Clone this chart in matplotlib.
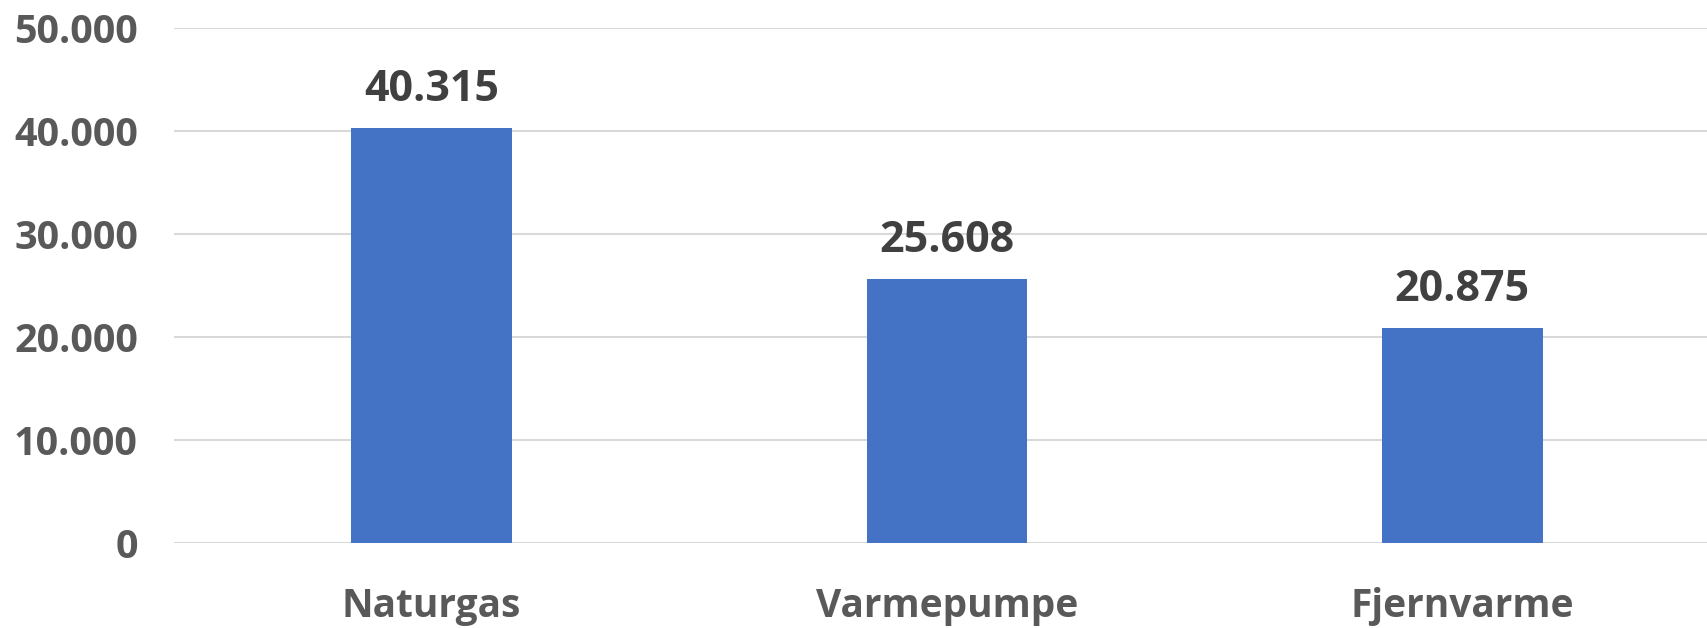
import numpy as np
import matplotlib.pyplot as plt

# Data
kategorier = ["Naturgas", "Varmepumpe", "Fjernvarme"]
vaerdier = [40315, 25608, 20875]
y_ticks = [0, 10000, 20000, 30000, 40000, 50000]

plt.rcParams['font.family'] = ['Open Sans', 'DejaVu Sans']
plt.rcParams['font.weight'] = 'bold'

W, H = 1708, 628
fig = plt.figure(figsize=(W / 100, H / 100), dpi=100)

# Axes in pixel coords: left 174, bottom 542.5, top 28, right edge of figure
left, right, top, bottom = 174, 1708, 28, 542.5
ax = fig.add_axes([left / W, 1 - bottom / H, (right - left) / W, (bottom - top) / H])

x = np.arange(len(kategorier))
ax.bar(x, vaerdier, width=0.312, color="#4472c4", zorder=3)

ax.set_ylim(0, 50000)
ax.set_xlim(-0.5, 2.5 - 12 / 515.5)

ax.set_yticks(y_ticks)
ax.set_yticklabels([f"{v:,}".replace(",", ".") for v in y_ticks])
ax.set_xticks(x)
ax.set_xticklabels(kategorier)

ax.grid(axis="y", color="#d9d9d9", linewidth=1.5, zorder=0)
for s in ax.spines.values():
    s.set_visible(False)

ax.tick_params(axis="y", length=0, pad=26, labelsize=28.5, labelcolor="#595959")
ax.tick_params(axis="x", length=0, pad=32, labelsize=28, labelcolor="#595959")

# Data labels
for xi, v in zip(x, vaerdier):
    ax.annotate(f"{v:,}".replace(",", "."), (xi, v), xytext=(0, 12),
                textcoords="offset points", ha="center", va="bottom",
                fontsize=31, fontweight="bold", color="#404040")

fig.savefig("out.png", dpi=100)
